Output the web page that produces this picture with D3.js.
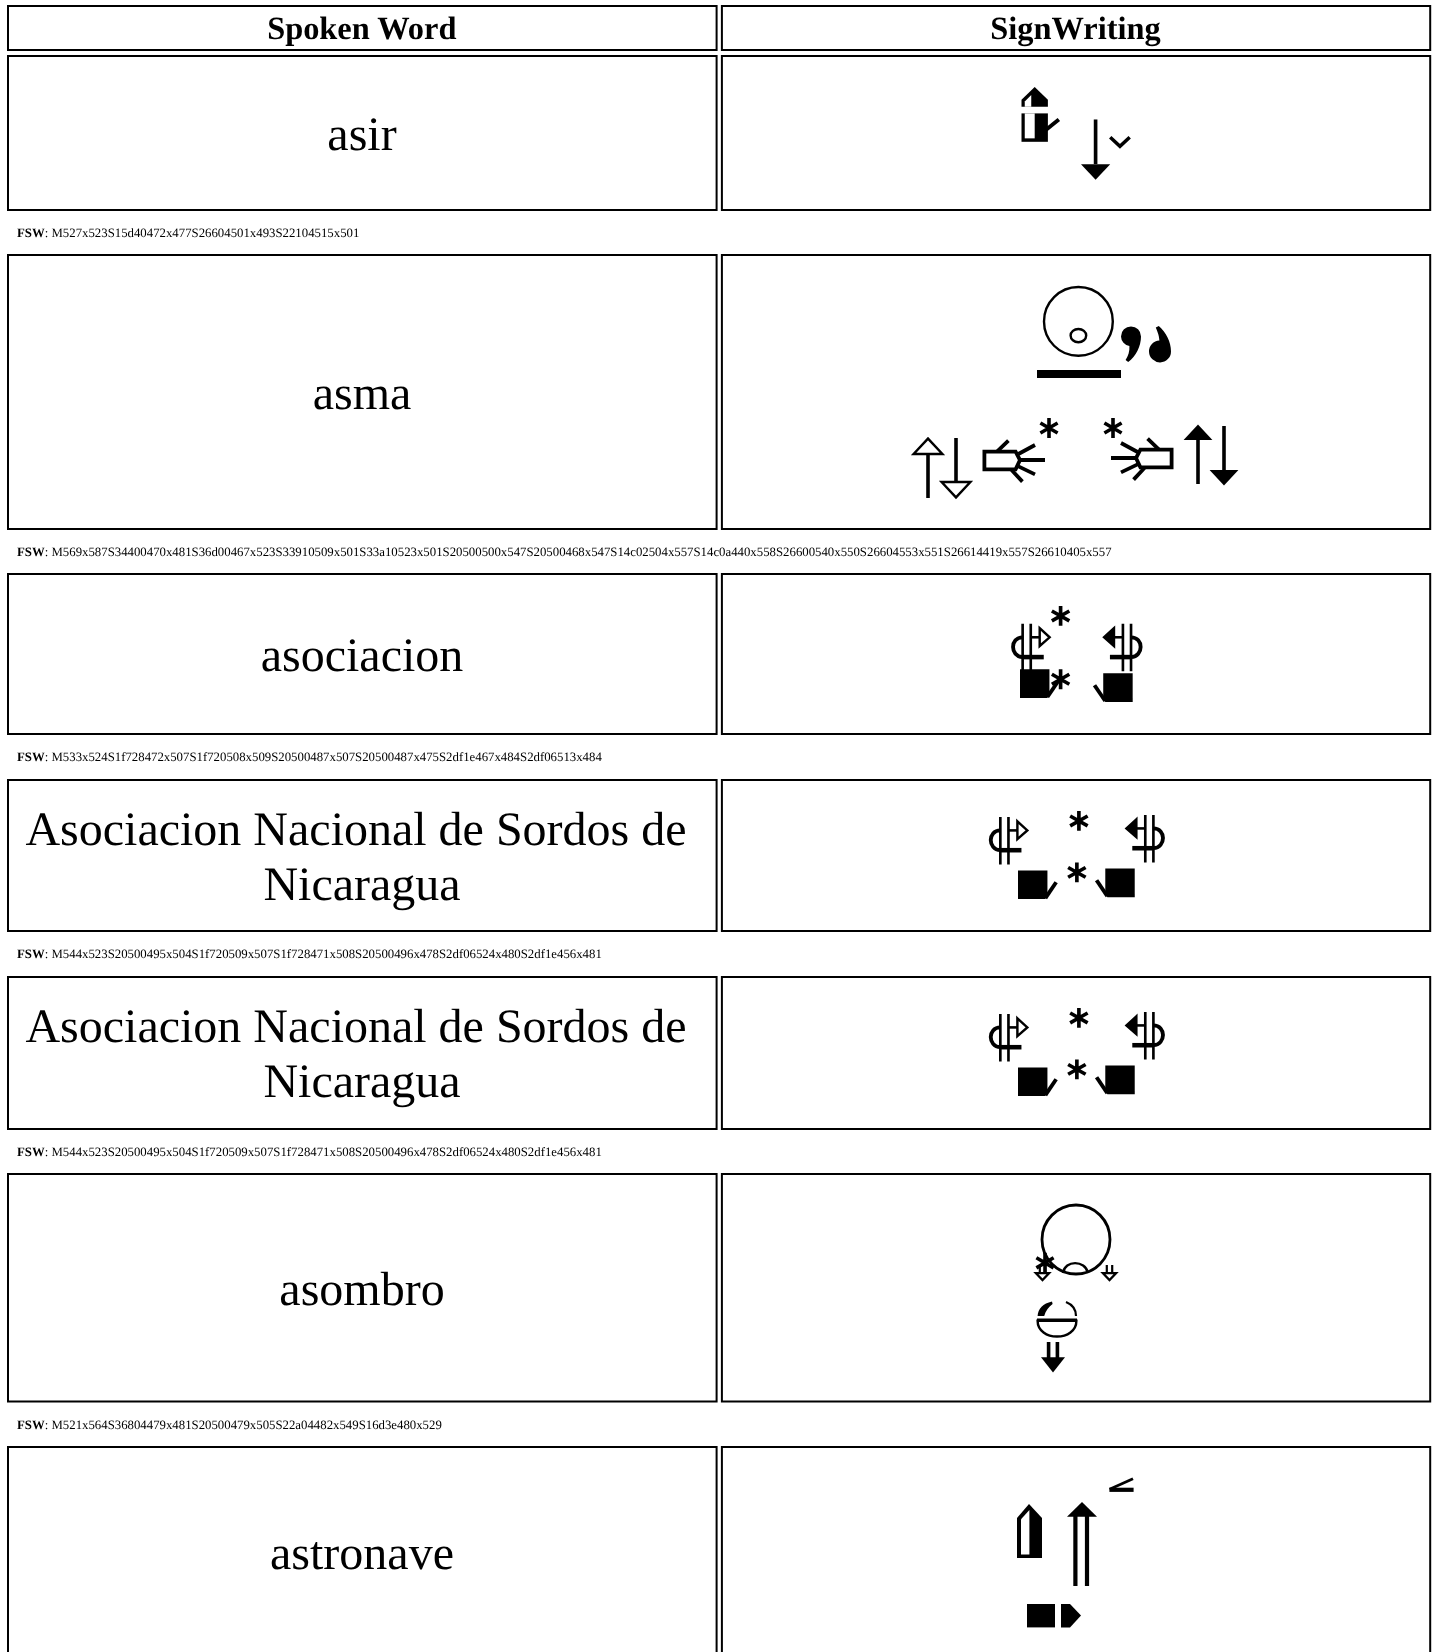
<!DOCTYPE html>
<html><head><meta charset="utf-8">
<script src="https://cdn.jsdelivr.net/npm/d3@7"></script>
<style>html,body{margin:0;padding:0;background:#fff;overflow:hidden}svg{display:block}text{font-family:"Liberation Serif","Times New Roman",serif;fill:#000;text-rendering:geometricPrecision}</style>
</head><body><div id="chart"></div>
<script>
// ---------- content ----------
const headers = ["Spoken Word", "SignWriting"];
const wordLines = [
  ["asir"],
  ["asma"],
  ["asociacion"],
  ["Asociacion Nacional de Sordos de", "Nicaragua"],
  ["Asociacion Nacional de Sordos de", "Nicaragua"],
  ["asombro"],
  ["astronave"]
];
const fswStrings = [
  "M527x523S15d40472x477S26604501x493S22104515x501",
  "M569x587S34400470x481S36d00467x523S33910509x501S33a10523x501S20500500x547S20500468x547S14c02504x557S14c0a440x558S26600540x550S26604553x551S26614419x557S26610405x557",
  "M533x524S1f728472x507S1f720508x509S20500487x507S20500487x475S2df1e467x484S2df06513x484",
  "M544x523S20500495x504S1f720509x507S1f728471x508S20500496x478S2df06524x480S2df1e456x481",
  "M544x523S20500495x504S1f720509x507S1f728471x508S20500496x478S2df06524x480S2df1e456x481",
  "M521x564S36804479x481S20500479x505S22a04482x549S16d3e480x529",
  "M530x560S15a40469x482S26a00494x481S22b04515x469S2f700474x532"
];
const fswLabel = "FSW";

// ---------- layout (pixels) ----------
const W = 1435, H = 1652;
const colEdges = [[8, 716.6], [721.9, 1430.2]];
const headerBox = [6, 50];
const rowBoxes = [[56, 210], [255, 529], [574, 734], [780, 931], [977, 1129], [1174, 1401.5], [1447, 1657]];
// FSW unit → pixel scales of each row's sign picture: [fsw x, px x, x ratio, fsw y, px y, y ratio]
const signFrames = [
  [472, 1021.5, 2.03, 477, 87, 2.03],
  [405, 913, 2.0, 481, 286, 2.0],
  [472, 1020, 2.03, 475, 606, 1.98],
  [471, 1018, 2.03, 478, 811, 1.98],
  [471, 1018, 2.03, 478, 1008, 1.98],
  [479, 1035, 2.0, 481, 1204, 2.03],
  [469, 1017, 2.0, 482, 1504, 2.0]
];

// ---------- sign symbols, in FSW units from the symbol's top-left ----------
const SW = 1.8;
function add(g, d, fill, stroke, sw) {
  g.append("path").attr("d", d).attr("fill", fill || "none")
    .attr("stroke", stroke || "none").attr("stroke-width", sw || 0).attr("stroke-linejoin", "miter");
}
function arrow(g, up, black) {
  const head = up ? "M0.3,8L14.7,8L7.5,0.3Z" : "M0.3,22L14.7,22L7.5,29.7Z";
  add(g, up ? "M7.5,8V30" : "M7.5,0V22", null, "#000", SW);
  add(g, head, black ? "#000" : "#fff", black ? null : "#000", black ? 0 : 1.2);
}
function asterisk(g) {
  add(g, "M5,0V10M0.7,2.5L9.3,7.5M9.3,2.5L0.7,7.5", null, "#000", 1.8);
}
function punchHand(g, flip) {
  const t = g.append("g").attr("transform", flip ? "translate(19.5,0) scale(-1,1)" : null);
  add(t, "M0,0H14.5V12.5L13.5,14.5H0Z", "#000");
  add(t, "M13.5,14L18.8,6", null, "#000", 1.9);
}
function movement(g, flip, black) {
  const t = g.append("g").attr("transform", flip ? "translate(20,0) scale(-1,1)" : null);
  add(t, "M6.3,0V24M10.3,0V24", null, "#000", 1.3);
  add(t, "M6.3,6.8C0,6.8 0,16.5 6.3,16.8", null, "#000", 1.9);
  add(t, "M6.3,16.8H16.7", null, "#000", 2.3);
  add(t, "M10.3,6.8H14.7", null, "#000", 1.3);
  add(t, "M14.7,2.2L19.6,6.8L14.7,11.2Z", black ? "#000" : "#fff", "#000", 1.2);
}
function spreadHand(g, flip) {
  const t = g.append("g").attr("transform", flip ? "translate(31,0) scale(-1,1)" : null);
  add(t, "M30.3,5.8H14.7L12.5,10L14.7,14.7H30.3Z", "#fff", "#000", 1.9);
  add(t, "M0,10H12.5M5,2.5L13.3,7M5,17.2L13.3,13.2M18.3,0.3L24,5.8M11.3,20.8L16.7,15", null, "#000", 1.9);
}
const symbols = {
  S15d40(g) {
    add(g, "M0,6.3L6.5,0L13,6.3V9.7H0Z", "#000");
    add(g, "M1.6,7.2L4.8,4V9.7H1.6Z", "#fff");
    add(g, "M0,13H13V27H0Z", "#000");
    add(g, "M1.6,13H6.5V25.3H1.6Z", "#fff");
    add(g, "M11.5,21.6L18.4,16", null, "#000", 1.9);
  },
  S26600(g) { arrow(g, true, true); },
  S26604(g) { arrow(g, false, true); },
  S26610(g) { arrow(g, true, false); },
  S26614(g) { arrow(g, false, false); },
  S22104(g) { add(g, "M0.7,0.7L5.5,5.2L10.3,0.7", null, "#000", 1.7); },
  S34400(g) {
    g.append("circle").attr("cx", 17.7).attr("cy", 17.7).attr("r", 17.2).attr("fill", "none").attr("stroke", "#000").attr("stroke-width", 1.2);
    g.append("ellipse").attr("cx", 17.7).attr("cy", 24.8).attr("rx", 3.9).attr("ry", 3.3).attr("fill", "none").attr("stroke", "#000").attr("stroke-width", 1.2);
  },
  S36d00(g) { add(g, "M0,0H42V4H0Z", "#000"); },
  S33910(g) {
    add(g, "M10,5.2A5,5 0 1 0 0,5.2A5,5 0 0 0 4.2,10C4.4,12.5 3.6,15 2.3,17L3.6,18C7.5,15 10,10 10,5.2Z", "#000");
  },
  S33a10(g) {
    add(g, "M4.9,0L3.4,0.8C4,2.5 5,4.2 5.2,7.2A5.5,5.5 0 1 0 11,12.7C11,8 8.5,3 4.9,0Z", "#000");
  },
  S20500: asterisk,
  S14c02(g) { spreadHand(g, false); },
  S14c0a(g) { spreadHand(g, true); },
  S1f728(g) { punchHand(g, false); },
  S1f720(g) { punchHand(g, true); },
  S2df1e(g) { movement(g, false, false); },
  S2df06(g) { movement(g, true, true); },
  S36804(g) {
    g.append("circle").attr("cx", 20.5).attr("cy", 17.5).attr("r", 17).attr("fill", "none").attr("stroke", "#000").attr("stroke-width", 1.4);
    add(g, "M14,34C15,27.5 25,27.5 26.5,34", null, "#000", 1.2);
    [0, 33.5].forEach(dx => {
      const a = g.append("g").attr("transform", `translate(${dx},30)`);
      add(a, "M2.4,0V4.2M5.1,0V4.2", null, "#000", 1.1);
      add(a, "M0.4,4L7.1,4L3.75,7.5Z", "#fff", "#000", 1.1);
    });
  },
  S22a04(g) {
    add(g, "M3.8,0V8M8.2,0V8", null, "#000", 1.8);
    add(g, "M0,7.5H12L6,15Z", "#000");
  },
  S16d3e(g) {
    add(g, "M0.3,7.2C0.5,3.5 3,1 7.5,0L7.8,1.2C6,2.5 4.3,4.5 3.6,7.2Z", "#000");
    add(g, "M14.5,0.3C17.5,1.5 19.5,4 19.5,7.2", null, "#000", 1.1);
    add(g, "M0.3,9.5H19.7C19.7,14.5 15,17.3 10,17.3C5,17.3 0.3,14.5 0.3,9.5Z", "#fff", "#000", 1.2);
    add(g, "M0,9.2H20", null, "#000", 1.5);
  },
  S15a40(g) {
    add(g, "M0,7L6,0L12.5,7V27H0Z", "#000");
    add(g, "M2,7.6L6.2,3V25.2H2Z", "#fff");
  },
  S26a00(g) {
    add(g, "M4.2,7V42M10,7V42", null, "#000", 2.1);
    add(g, "M0,7.4H15L7.5,0Z", "#000");
  },
  S22b04(g) {
    add(g, "M0.3,5.6L12,0.4", null, "#000", 1.4);
    add(g, "M0.2,5.9H12.3", null, "#000", 2.1);
  },
  S2f700(g) {
    add(g, "M0,0H14V11.7H0Z", "#000");
    add(g, "M17,0H21.5L27,5.8L21.5,11.7H17Z", "#000");
  }
};

// ---------- drawing ----------
const svg = d3.select("#chart").append("svg").attr("width", W).attr("height", H).attr("viewBox", `0 0 ${W} ${H}`);
const defs = svg.append("defs");
defs.append("filter").attr("id", "soft").attr("x", "-5%").attr("y", "-5%").attr("width", "110%").attr("height", "110%")
  .append("feGaussianBlur").attr("stdDeviation", 0.7);
defs.append("filter").attr("id", "softText").attr("x", "-2%").attr("y", "-20%").attr("width", "104%").attr("height", "140%")
  .append("feGaussianBlur").attr("stdDeviation", 0.3);

const border = 2;
function box(x0, x1, y0, y1) {
  svg.append("rect").attr("x", x0).attr("y", y0).attr("width", x1 - x0).attr("height", y1 - y0)
    .attr("fill", "#fff").attr("stroke", "#000").attr("stroke-width", border);
}
const colMid = colEdges.map(c => (c[0] + c[1]) / 2);

// header
colEdges.forEach((c, i) => {
  box(c[0], c[1], headerBox[0], headerBox[1]);
  svg.append("text").attr("x", colMid[i] - 0.5).attr("y", 39).attr("text-anchor", "middle")
    .attr("font-size", 32.4).attr("font-weight", "bold").attr("filter", "url(#softText)").text(headers[i]);
});

function parseFsw(s) {
  return Array.from(s.matchAll(/(S[0-9a-f]{5})(\d{3})x(\d{3})/g)).map(m => ({ key: m[1], x: +m[2], y: +m[3] }));
}

rowBoxes.forEach((b, i) => {
  colEdges.forEach(c => box(c[0], c[1], b[0], b[1]));
  const mid = (b[0] + b[1]) / 2;
  const lines = wordLines[i];
  lines.forEach((ln, k) => {
    svg.append("text").attr("x", colMid[0] - 0.3).attr("y", mid + 17 + (lines.length > 1 ? -28 + k * 55 : 0))
      .attr("dx", k < lines.length - 1 ? "-0.125em" : null)
      .attr("text-anchor", "middle").attr("font-size", 48).attr("filter", "url(#softText)").text(ln);
  });
  // FSW caption
  const t = svg.append("text").attr("x", 17).attr("y", b[1] + 27).attr("font-size", 12.8).attr("filter", "url(#softText)");
  t.append("tspan").attr("font-weight", "bold").text(fswLabel);
  t.append("tspan").text(": " + fswStrings[i]);
  // sign picture
  const f = signFrames[i];
  const xs = d3.scaleLinear().domain([f[0], f[0] + 1]).range([f[1], f[1] + f[2]]);
  const ys = d3.scaleLinear().domain([f[3], f[3] + 1]).range([f[4], f[4] + f[5]]);
  const pic = svg.append("g").attr("filter", "url(#soft)");
  parseFsw(fswStrings[i]).forEach(sym => {
    const g = pic.append("g").attr("transform", `translate(${xs(sym.x)},${ys(sym.y)}) scale(${f[2]},${f[5]})`);
    (symbols[sym.key] || (() => {}))(g);
  });
});
</script></body></html>
